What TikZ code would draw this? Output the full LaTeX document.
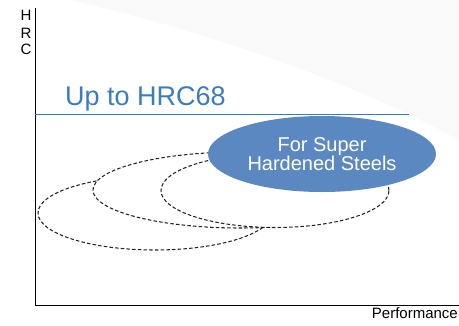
\documentclass[tikz,border=0pt]{standalone}
\usepackage{fontspec}
\setmainfont{Liberation Sans}
\usetikzlibrary{shapes.geometric}
\definecolor{hrcblue}{RGB}{58,124,192}
\definecolor{lineblue}{RGB}{47,127,193}
\definecolor{ellblue}{RGB}{91,136,192}
\definecolor{dashgray}{RGB}{35,35,35}
\definecolor{swoosh}{RGB}{250,250,251}
\begin{document}
\begin{tikzpicture}[x=1pt,y=-1pt,
  axis/.style={draw=black,line width=0.8pt},
  dashell/.style={ellipse,draw=dashgray,fill=white,line width=1.05pt,dash pattern=on 3.5pt off 2.2pt,inner sep=0pt},
  axlabel/.style={font=\fontsize{15}{15}\selectfont,text=black,inner sep=0pt}]
\useasboundingbox (0,0) rectangle (459,325);
% faint background swoosh
\fill[swoosh] (70,0) .. controls (200,30) and (350,80) .. (459,140) -- (459,0) -- cycle;
% axes
\coordinate (ytop) at (35,8);
\coordinate (origin) at (35,305);
\coordinate (xend) at (459,305);
\draw[axis] (ytop) -- (origin) -- (xend);
\node[axlabel] (h) at (26,15.5) {H};
\node[axlabel] (r) at (26,33) {R};
\node[axlabel] (c) at (26,49.5) {C};
\node[axlabel,anchor=base east] (perf) at (458,318) {Performance};
% HRC68 line
\coordinate (l1) at (35,114.5);
\coordinate (l2) at (409,114.5);
\draw[lineblue,line width=1pt] (l1) -- (l2);
\node[anchor=base west,inner sep=0pt,text=hrcblue,font=\fontsize{27}{27}\selectfont] (hrc) at (65,105) {Up to HRC68};
% dashed ellipses
\node[dashell,minimum width=234pt,minimum height=74pt] (ea) at (155,213) {};
\node[dashell,minimum width=294pt,minimum height=76pt] (eb) at (240,190) {};
\node[dashell,minimum width=228pt,minimum height=74pt] (ec) at (275,190.5) {};
% blue ellipse
\node[ellipse,fill=ellblue,minimum width=228pt,minimum height=76pt,inner sep=0pt,
  text=white,align=center,font=\fontsize{20}{17.5}\selectfont] (super) at (322,154) {For Super\\Hardened Steels};
\end{tikzpicture}
\end{document}
